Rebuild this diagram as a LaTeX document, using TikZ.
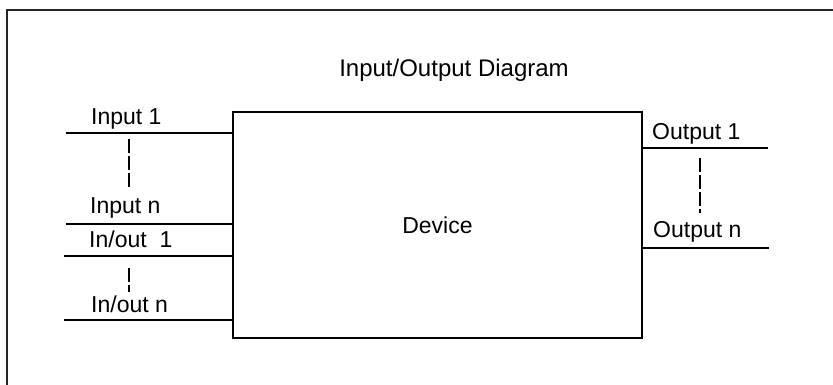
\documentclass[tikz,border=0pt]{standalone}
\usepackage{fontspec}
\setmainfont{Liberation Sans}
\tikzset{
  wire/.style={line width=1.6pt, black},
  dots/.style={line width=1.3pt, black, dash pattern=on 14pt off 3pt},
  lbl/.style={inner sep=0pt, anchor=base west, font=\fontsize{23}{27}\selectfont},
  frame/.style={line width=2pt, black!85}
}
\begin{document}
\begin{tikzpicture}[x=1pt,y=-1pt]
\useasboundingbox (0,0) rectangle (833,385);
% outer frame (top and left only)
\draw[frame] (7,386) -- (7,10) -- (834,10);
% title
\node[lbl, anchor=base] (title) at (454,77) {\fontsize{24}{28}\selectfont Input/Output Diagram};
% device box
\node[draw, line width=1.6pt, minimum width=409pt, minimum height=226pt, inner sep=0pt,
      font=\fontsize{23}{27}\selectfont] (dev) at (437.5,225) {Device};
% left free ends
\coordinate (i1) at (66,133);
\coordinate (in) at (66,224);
\coordinate (io1) at (64,256);
\coordinate (ion) at (64,320);
\draw[wire] (i1) -- (i1 -| dev.west);
\draw[wire] (in) -- (in -| dev.west);
\draw[wire] (io1) -- (io1 -| dev.west);
\draw[wire] (ion) -- (ion -| dev.west);
% right free ends
\coordinate (o1) at (768,148);
\coordinate (on) at (769,248);
\draw[wire] (o1 -| dev.east) -- (o1);
\draw[wire] (on -| dev.east) -- (on);
% labels
\node[lbl] (li1) at (91,125) {Input 1};
\node[lbl] (lin) at (90,213) {Input n};
\node[lbl] (lio1) at (89,247) {In/out\ \ 1};
\node[lbl] (lion) at (91,312) {In/out n};
\node[lbl] (lo1) at (652,139.5) {Output 1};
\node[lbl] (lon) at (653,237) {Output n};
% dashed continuation marks
\coordinate (d1a) at (129,139);
\coordinate (d1b) at (129,188);
\coordinate (d2a) at (129,268);
\coordinate (d2b) at (129,292);
\coordinate (d3a) at (700,158);
\coordinate (d3b) at (700,213);
\draw[dots] (d1a) -- (d1b);
\draw[dots] (d2a) -- (d2b);
\draw[dots] (d3a) -- (d3b);
\end{tikzpicture}
\end{document}
